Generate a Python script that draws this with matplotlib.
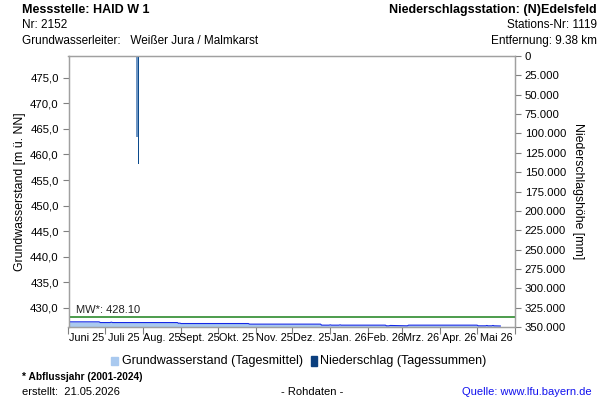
import matplotlib
matplotlib.use("Agg")
import matplotlib.pyplot as plt
from matplotlib.ticker import FuncFormatter, FixedLocator
from matplotlib.patches import Rectangle
import datetime as dt

plt.rcParams['font.family'] = ['Liberation Sans', 'DejaVu Sans']

# ---- data ----
gw_dates = ["2025-06-01", "2025-06-26", "2025-06-27", "2025-07-05", "2025-07-06", "2025-07-07",
            "2025-08-29", "2025-08-30", "2025-08-31", "2025-09-01", "2025-10-26", "2025-10-27",
            "2025-12-24", "2025-12-25", "2025-12-31", "2026-01-01", "2026-01-02", "2026-01-08",
            "2026-01-09", "2026-01-10", "2026-02-15", "2026-02-16", "2026-02-18", "2026-02-19",
            "2026-03-05", "2026-03-06", "2026-05-01", "2026-05-02", "2026-05-08", "2026-05-09",
            "2026-05-10", "2026-05-13", "2026-05-14", "2026-05-15", "2026-05-20"]
gw_values = [427.21, 427.21, 427.07, 427.07, 427.15, 427.07,
             427.07, 426.92, 426.96, 426.88, 426.88, 426.76,
             426.76, 426.56, 426.56, 426.62, 426.56, 426.56,
             426.62, 426.56, 426.56, 426.43, 426.43, 426.50,
             426.43, 426.56, 426.56, 426.43, 426.43, 426.50,
             426.43, 426.43, 426.50, 426.43, 426.40]
mw_value = 428.10

precip_dates = ["2025-07-27", "2025-07-28"]
precip_values = [104600, 139500]
precip_colors = ["#6f96c4", "#0b4a8c"]

month_labels = ["Juni 25", "Juli 25", "Aug. 25", "Sept. 25", "Okt. 25", "Nov. 25",
                "Dez. 25", "Jan. 26", "Feb. 26", "Mrz. 26", "Apr. 26", "Mai 26"]
month_starts = ["2025-06-01", "2025-07-01", "2025-08-01", "2025-09-01", "2025-10-01",
                "2025-11-01", "2025-12-01", "2026-01-01", "2026-02-01", "2026-03-01",
                "2026-04-01", "2026-05-01", "2026-06-01"]
left_ticks = [430, 435, 440, 445, 450, 455, 460, 465, 470, 475]
right_ticks = [0, 25000, 50000, 75000, 100000, 125000, 150000, 175000, 200000,
               225000, 250000, 275000, 300000, 325000, 350000]

# ---- figure ----
W, H = 600, 400
fig = plt.figure(figsize=(6, 4), dpi=100)
ax = fig.add_axes([68.5 / W, 1 - 327 / H, (515 - 68.5) / W, (327 - 56) / H])

todate = lambda s: dt.datetime.strptime(s, "%Y-%m-%d")
gx = [todate(d) for d in gw_dates]
ymin, ymax = 426.2, 479.3

ax.fill_between(gx, gw_values, ymin, color="#a9c9ef", lw=0, zorder=1)
ax.plot(gx, gw_values, color="#1428e6", lw=0.8, zorder=3)
ax.axhline(mw_value, color="#2e8b2e", lw=1.2, zorder=4)
ax.text(todate("2025-06-07"), mw_value + 0.45, "MW*: 428.10", fontsize=8, va="bottom",
        ha="left", color="#222222", zorder=5)

ax.set_ylim(ymin, ymax)
ax.set_xlim(todate("2025-06-01"), todate("2026-06-01"))
ax.yaxis.set_major_locator(FixedLocator(left_ticks))
ax.yaxis.set_major_formatter(FuncFormatter(lambda v, p: f"{v:.1f}".replace(".", ",")))

ms = [todate(m) for m in month_starts]
ax.set_xticks(ms)
ax.set_xticklabels([])
mids = [ms[i] + (ms[i + 1] - ms[i]) / 2 for i in range(len(month_labels))]
ax.set_xticks(mids, minor=True)
ax.set_xticklabels(month_labels, minor=True, fontsize=7.8)
ax.tick_params(axis="x", which="major", length=5, width=0.8, color="#808080", direction="out")
ax.tick_params(axis="x", which="minor", length=0, pad=4)
ax.tick_params(axis="y", length=4, width=0.8, color="#808080", labelsize=8.2, pad=3)
for s in ax.spines.values():
    s.set_color("#a0a0a0")
    s.set_linewidth(0.9)
ax.set_ylabel("Grundwasserstand [m ü. NN]", fontsize=8.8, labelpad=3)

ax2 = ax.twinx()
px = [todate(d) for d in precip_dates]
ax2.bar(px, precip_values, width=0.9, bottom=0, color=precip_colors, align="center", zorder=2)
ax2.set_ylim(350000, 0)
ax2.yaxis.set_major_locator(FixedLocator(right_ticks))
ax2.yaxis.set_major_formatter(FuncFormatter(lambda v, p: f"{int(round(v)):,}".replace(",", ".")))
ax2.tick_params(axis="y", length=4, width=0.8, color="#808080", labelsize=8.2, pad=3)
for s in ax2.spines.values():
    s.set_color("#a0a0a0")
    s.set_linewidth(0.9)
ax2.set_ylabel("Niederschlagshöhe [mm]", fontsize=8.8, rotation=-90, labelpad=13)

# ---- header texts ----
def ftxt(x, y, s, **kw):
    fig.text(x / W, 1 - y / H, s, va="center", **kw)

ftxt(22, 10, "Messstelle: HAID W 1", fontsize=9, fontweight="bold")
ftxt(22, 25, "Nr: 2152", fontsize=8.5)
ftxt(22, 41, "Grundwasserleiter:   Weißer Jura / Malmkarst", fontsize=8.5)
ftxt(597, 10, "Niederschlagsstation: (N)Edelsfeld", fontsize=9, fontweight="bold", ha="right")
ftxt(597, 25, "Stations-Nr: 1119", fontsize=8.5, ha="right")
ftxt(597, 41, "Entfernung: 9.38 km", fontsize=8.5, ha="right")

# ---- legend ----
leg_y = 361
fig.patches.append(Rectangle((111 / W, 1 - 365 / H), 7 / W, 8 / H, transform=fig.transFigure,
                             color="#a9c9ef", figure=fig))
ftxt(122, leg_y, "Grundwasserstand (Tagesmittel)", fontsize=9)
fig.patches.append(Rectangle((311 / W, 1 - 366 / H), 6 / W, 10 / H, transform=fig.transFigure,
                             color="#0b3f7e", figure=fig))
ftxt(320, leg_y, "Niederschlag (Tagessummen)", fontsize=9)

# ---- footer ----
ftxt(22, 377, "* Abflussjahr (2001-2024)", fontsize=7.3, fontweight="bold")
ftxt(22, 392, "erstellt:  21.05.2026", fontsize=8)
ftxt(312, 392, "- Rohdaten -", fontsize=8, ha="center")
ftxt(592, 392, "Quelle: www.lfu.bayern.de", fontsize=8, ha="right", color="#1010ee")

fig.savefig("out.png", dpi=100)
